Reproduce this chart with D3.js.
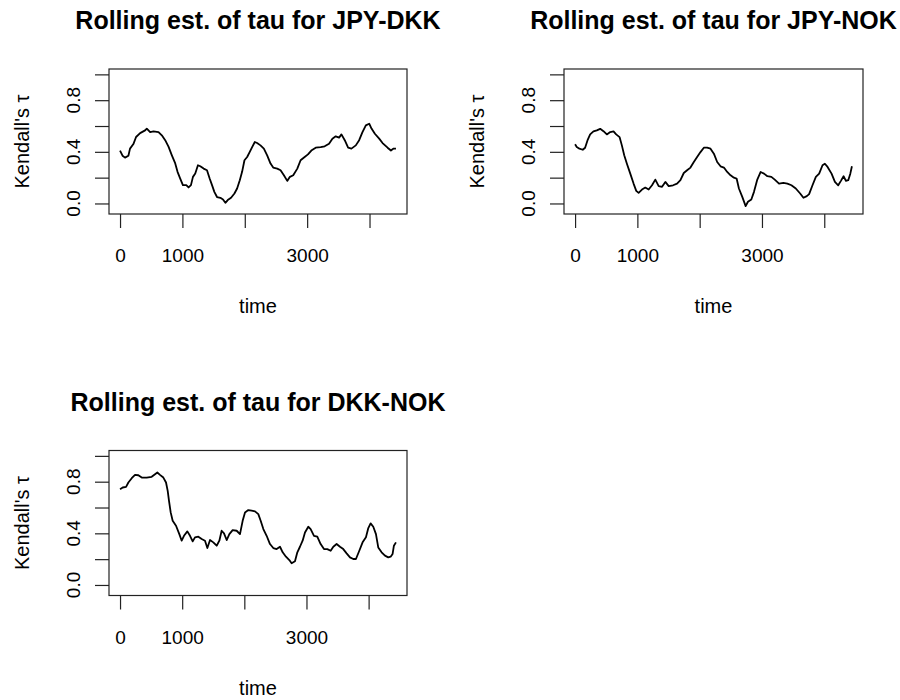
<!DOCTYPE html>
<html>
<head>
<meta charset="utf-8">
<script src="https://cdn.jsdelivr.net/npm/d3@7"></script>
<style>
  body { margin: 0; background: #fff; }
  text { font-family: "Liberation Sans", Arial, sans-serif; fill: #000; }
</style>
</head>
<body>
<div id="chart"></div>
<script>
// values (time index, rolling Kendall's tau)
let jpyDkkTime = [0, 40, 80, 134, 160, 214, 257, 322, 402, 429, 483, 536, 617, 670, 724, 777, 831, 885, 922, 965,
    1008, 1062, 1099, 1137, 1169, 1206, 1249, 1287, 1340, 1394, 1437, 1475, 1512, 1555, 1609, 1651, 1689, 1727, 1780, 1834,
    1877, 1920, 1957, 1995, 2038, 2080, 2118, 2161, 2198, 2252, 2306, 2359, 2413, 2456, 2520, 2574, 2627, 2681, 2724, 2777,
    2842, 2895, 2960, 3013, 3067, 3137, 3217, 3281, 3351, 3405, 3458, 3512, 3550, 3603, 3657, 3710, 3780, 3834, 3887, 3941,
    3995, 4032, 4086, 4155, 4209, 4290, 4343, 4386, 4424]
let jpyDkkTau = [0.41, 0.37, 0.355, 0.37, 0.425, 0.46, 0.515, 0.545, 0.566, 0.58, 0.553, 0.558, 0.553, 0.528, 0.49, 0.44, 0.373, 0.31, 0.245, 0.193,
    0.142, 0.142, 0.124, 0.142, 0.206, 0.232, 0.296, 0.288, 0.27, 0.257, 0.193, 0.142, 0.09, 0.05, 0.044, 0.031, 0.005, 0.026, 0.044, 0.077,
    0.116, 0.18, 0.245, 0.335, 0.36, 0.4, 0.437, 0.476, 0.468, 0.45, 0.425, 0.373, 0.309, 0.278, 0.27, 0.257, 0.219, 0.175, 0.206, 0.219,
    0.27, 0.335, 0.36, 0.38, 0.41, 0.432, 0.437, 0.443, 0.463, 0.502, 0.52, 0.51, 0.535, 0.49, 0.432, 0.425, 0.45, 0.49, 0.553, 0.605,
    0.618, 0.58, 0.54, 0.502, 0.468, 0.432, 0.41, 0.425, 0.425]

let jpyNokTime = [0, 27, 70, 123, 161, 199, 242, 295, 349, 403, 456, 510, 564, 617, 660, 714, 751, 789, 832, 886,
    939, 982, 1020, 1074, 1127, 1181, 1235, 1288, 1342, 1396, 1449, 1503, 1573, 1637, 1691, 1745, 1798, 1852, 1906, 1959,
    2013, 2067, 2120, 2174, 2228, 2281, 2335, 2389, 2442, 2496, 2550, 2593, 2630, 2684, 2738, 2775, 2829, 2872, 2925, 2979,
    3033, 3087, 3151, 3205, 3274, 3344, 3408, 3473, 3543, 3613, 3666, 3720, 3757, 3811, 3865, 3918, 3972, 4010, 4053, 4117,
    4171, 4224, 4267, 4310, 4348, 4385, 4418, 4444]
let jpyNokTau = [0.458, 0.437, 0.424, 0.416, 0.432, 0.488, 0.535, 0.558, 0.566, 0.578, 0.56, 0.535, 0.553, 0.558, 0.535, 0.514, 0.45, 0.373, 0.308, 0.231,
    0.154, 0.098, 0.082, 0.108, 0.123, 0.108, 0.141, 0.185, 0.134, 0.129, 0.167, 0.134, 0.141, 0.154, 0.18, 0.236, 0.257, 0.278, 0.321, 0.36,
    0.398, 0.432, 0.432, 0.424, 0.386, 0.321, 0.288, 0.278, 0.244, 0.218, 0.2, 0.193, 0.116, 0.051, -0.021, 0.013, 0.031, 0.09, 0.185, 0.244,
    0.231, 0.211, 0.206, 0.185, 0.154, 0.159, 0.154, 0.141, 0.116, 0.077, 0.044, 0.057, 0.072, 0.141, 0.206, 0.231, 0.296, 0.308, 0.283, 0.231,
    0.167, 0.141, 0.175, 0.211, 0.175, 0.18, 0.231, 0.288]

let dkkNokTime = [0, 43, 97, 134, 188, 241, 295, 349, 429, 509, 563, 600, 643, 697, 740, 767, 788, 815, 847, 901,
    954, 992, 1029, 1083, 1126, 1169, 1206, 1260, 1314, 1367, 1405, 1448, 1501, 1555, 1598, 1635, 1673, 1716, 1759, 1812,
    1877, 1930, 1973, 2011, 2064, 2118, 2172, 2225, 2263, 2306, 2359, 2413, 2466, 2520, 2574, 2617, 2670, 2724, 2761, 2815,
    2853, 2895, 2938, 2976, 3029, 3067, 3121, 3174, 3228, 3282, 3335, 3389, 3432, 3485, 3539, 3592, 3646, 3700, 3753, 3796,
    3850, 3903, 3957, 3995, 4032, 4075, 4118, 4155, 4209, 4263, 4316, 4354, 4386, 4407, 4440]
let dkkNokTau = [0.742, 0.755, 0.76, 0.794, 0.827, 0.853, 0.85, 0.832, 0.832, 0.838, 0.858, 0.871, 0.853, 0.832, 0.794, 0.729, 0.652, 0.562, 0.497, 0.459,
    0.394, 0.343, 0.381, 0.415, 0.381, 0.338, 0.369, 0.374, 0.356, 0.343, 0.286, 0.348, 0.33, 0.304, 0.343, 0.42, 0.4, 0.348, 0.394, 0.425,
    0.42, 0.394, 0.497, 0.562, 0.58, 0.575, 0.57, 0.549, 0.497, 0.433, 0.381, 0.317, 0.286, 0.278, 0.296, 0.253, 0.219, 0.193, 0.168, 0.183,
    0.253, 0.296, 0.343, 0.407, 0.451, 0.433, 0.381, 0.374, 0.317, 0.278, 0.278, 0.265, 0.296, 0.317, 0.296, 0.278, 0.245, 0.214, 0.201, 0.201,
    0.265, 0.33, 0.369, 0.441, 0.477, 0.451, 0.394, 0.291, 0.253, 0.227, 0.214, 0.219, 0.24, 0.304, 0.33]

let titles = ["Rolling est. of tau for JPY-DKK", "Rolling est. of tau for JPY-NOK", "Rolling est. of tau for DKK-NOK"]
let xTicks = [0, 1000, 2000, 3000, 4000]
let xTickLabels = ["0", "1000", "", "3000", ""]   // R drops the labels that would overlap
let yTicks = [0, 0.2, 0.4, 0.6, 0.8, 1.0]
let yTickLabels = ["0.0", "", "0.4", "", "0.8", ""]
let yLimits = [-0.04, 1.0]
let xLabel = "time"
let yLabel = "Kendall's \u03c4"

let width = 900, height = 700

let svg = d3.select("#chart")
    .append("svg")
    .attr("width", width)
    .attr("height", height)

// R pads each axis range by 4%
function padded(lo, hi) {
    let d = (hi - lo) * 0.04
    return [lo - d, hi + d]
}

function drawPanel(box, time, tau, title) {
    let pts = time.map((t, i) => [t, tau[i]])

    let x = d3.scaleLinear()
        .domain(padded(0, d3.max(time)))
        .range([box.left, box.left + box.w])

    let y = d3.scaleLinear()
        .domain(padded(yLimits[0], yLimits[1]))
        .range([box.top + box.h, box.top])

    let g = svg.append("g")

    // the curve
    g.append("path")
        .datum(pts)
        .attr("fill", "none")
        .attr("stroke", "#000")
        .attr("stroke-width", 1.8)
        .attr("stroke-linejoin", "round")
        .attr("d", d3.line().x(d => x(d[0])).y(d => y(d[1])))

    // frame
    g.append("rect")
        .attr("x", box.left)
        .attr("y", box.top)
        .attr("width", box.w)
        .attr("height", box.h)
        .attr("fill", "none")
        .attr("stroke", "#222")
        .attr("stroke-width", 1.2)

    // x axis
    let xAxis = g.append("g")
        .attr("transform", `translate(0, ${box.top + box.h})`)
        .call(d3.axisBottom(x)
            .tickValues(xTicks)
            .tickSize(14)
            .tickFormat((d, i) => xTickLabels[i]))
    xAxis.select(".domain").remove()
    xAxis.selectAll("line").attr("stroke", "#222").attr("stroke-width", 1.2)
    xAxis.selectAll("text")
        .attr("y", 48)
        .attr("dy", null)
        .attr("fill", "#000")
        .style("font-size", "19px")
        .style("font-family", "Liberation Sans, Arial, sans-serif")

    // y axis: ticks through d3, labels rotated like R's las=0
    let yAxis = g.append("g")
        .attr("transform", `translate(${box.left}, 0)`)
        .call(d3.axisLeft(y)
            .tickValues(yTicks)
            .tickSize(14)
            .tickFormat(""))
    yAxis.select(".domain").remove()
    yAxis.selectAll("line").attr("stroke", "#222").attr("stroke-width", 1.2)

    g.selectAll(null)
        .data(yTicks)
        .enter()
        .append("text")
        .text((d, i) => yTickLabels[i])
        .attr("transform", d => `translate(${box.left - 29}, ${y(d)}) rotate(-90)`)
        .style("text-anchor", "middle")
        .style("font-size", "19px")

    // axis titles
    g.append("text")
        .attr("x", box.left + box.w / 2)
        .attr("y", box.top + box.h + 99)
        .style("text-anchor", "middle")
        .style("font-size", "20px")
        .text(xLabel)

    g.append("text")
        .attr("transform", `translate(${box.left - 80}, ${box.top + box.h / 2}) rotate(-90)`)
        .style("text-anchor", "middle")
        .style("font-size", "20px")
        .text(yLabel)

    // main title
    g.append("text")
        .attr("x", box.left + box.w / 2)
        .attr("y", box.top - 40)
        .style("text-anchor", "middle")
        .style("font-size", "25px")
        .style("font-weight", "bold")
        .text(title)
}

drawPanel({left: 109, top: 69, w: 298, h: 145}, jpyDkkTime, jpyDkkTau, titles[0])
drawPanel({left: 564, top: 69, w: 299, h: 145}, jpyNokTime, jpyNokTau, titles[1])
drawPanel({left: 109, top: 450.5, w: 298, h: 145}, dkkNokTime, dkkNokTau, titles[2])
</script>
</body>
</html>
